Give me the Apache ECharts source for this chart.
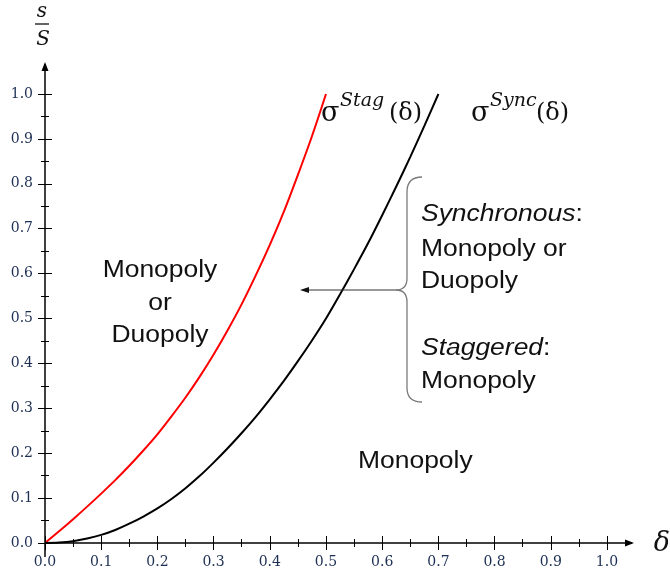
<!DOCTYPE html>
<html><head><meta charset="utf-8">
<script src="https://cdn.jsdelivr.net/npm/echarts@6/dist/echarts.min.js"></script>
<style>html,body{margin:0;padding:0;background:#fff}#c{width:670px;height:576px}</style>
</head><body><div id="c"></div>
<script>
// Data
const deltaStag = [0, 0.025, 0.05, 0.075, 0.1, 0.125, 0.15, 0.175, 0.2, 0.225, 0.25, 0.275, 0.3, 0.325, 0.35, 0.375, 0.4, 0.425, 0.45, 0.475, 0.5];
const sigmaStag = [0, 0.026, 0.053, 0.081, 0.11, 0.14, 0.172, 0.206, 0.242, 0.282, 0.324, 0.37, 0.42, 0.474, 0.532, 0.596, 0.664, 0.738, 0.82, 0.906, 1.0];
const deltaSync = [0, 0.025, 0.05, 0.075, 0.1, 0.125, 0.15, 0.175, 0.2, 0.225, 0.25, 0.275, 0.3, 0.325, 0.35, 0.375, 0.4, 0.425, 0.45, 0.475, 0.5, 0.525, 0.55, 0.575, 0.6, 0.625, 0.65, 0.675, 0.7];
const sigmaSync = [0, 0.001, 0.004, 0.01, 0.018, 0.029, 0.043, 0.059, 0.077, 0.098, 0.122, 0.149, 0.179, 0.211, 0.245, 0.281, 0.32, 0.361, 0.405, 0.451, 0.5, 0.554, 0.61, 0.668, 0.73, 0.794, 0.86, 0.929, 1.0];
const xTickLabels = ['0.0','0.1','0.2','0.3','0.4','0.5','0.6','0.7','0.8','0.9','1.0'];
const yTickLabels = ['0.0','0.1','0.2','0.3','0.4','0.5','0.6','0.7','0.8','0.9','1.0'];

const chart = echarts.init(document.getElementById('c'), null, {renderer: 'canvas'});
const labelColor = '#1c2e52';
const tickFont = 'DejaVu Serif';
function fmtX(v){ const i = Math.round(v*10); return xTickLabels[i] || ''; }
function fmtY(v){ const i = Math.round(v*10); return yTickLabels[i] || ''; }

function axisPair(dim, fmt){
  const base = {type:'value', min:0, max:1, interval:0.1,
    position: dim === 'x' ? 'bottom' : 'left',
    axisLine:{show:false}, splitLine:{show:false}, minorSplitLine:{show:false}};
  return [
    Object.assign({}, base, {
      axisTick:{show:true, inside:false, length:7, lineStyle:{color:'#000', width:1}},
      minorTick:{show:true, splitNumber:2, length:4, lineStyle:{color:'#000', width:1}},
      axisLabel:{show:true, margin:12, fontFamily:tickFont, fontSize:14, color:labelColor, formatter:fmt}
    }),
    Object.assign({}, base, {
      axisTick:{show:true, inside:true, length:7, lineStyle:{color:'#000', width:1}},
      minorTick:{show:true, splitNumber:2, length:4, lineStyle:{color:'#000', width:1}},
      axisLabel:{show:false}
    })
  ];
}

const stagData = deltaStag.map((d,i)=>[d, sigmaStag[i]]);
const syncData = deltaSync.map((d,i)=>[d, sigmaSync[i]]);

chart.setOption({
  animation:false,
  backgroundColor:'#fff',
  grid:{left:45, right:63, top:94, bottom:33, containLabel:false},
  xAxis: axisPair('x', fmtX),
  yAxis: axisPair('y', fmtY),
  series:[
    {type:'line', data:stagData, smooth:0.3, symbol:'none', lineStyle:{color:'#ff0000', width:2}, z:3},
    {type:'line', data:syncData, smooth:0.3, symbol:'none', lineStyle:{color:'#000000', width:2}, z:3}
  ]
});

const p0 = chart.convertToPixel({gridIndex:0}, [0, 0]);
const x0 = p0[0], y0 = p0[1];

function txt(x, y, text, opts){
  opts = opts || {};
  const fs = opts.fontSize || 23;
  const ff = opts.fontFamily || 'Liberation Sans';
  const al = opts.align || 'left';
  const style = {text:text, x:0, y:0, fill:opts.fill||'#111', fontSize:fs, fontFamily:ff,
    fontStyle:opts.fontStyle||'normal', align:al, textAlign:al, verticalAlign:'middle', textVerticalAlign:'middle'};
  if (opts.rich) style.rich = opts.rich;
  return {type:'text', x:x, y:y, scaleX:opts.scaleX||1, z:10, style:style};
}
const sx = 1.15;
const richSans = {
  i:{fontFamily:'Liberation Sans', fontSize:23, fontStyle:'italic', fill:'#111'},
  n:{fontFamily:'Liberation Sans', fontSize:23, fontStyle:'normal', fill:'#111'}
};
const braceStyle = {stroke:'#7a7a7a', lineWidth:1.3, fill:null};
function qc(x1,y1,cx,cy,x2,y2){ return {type:'bezierCurve', z:6, shape:{x1:x1,y1:y1,cpx1:cx,cpy1:cy,x2:x2,y2:y2}, style:braceStyle}; }
function ln(x1,y1,x2,y2,style){ return {type:'line', z:6, shape:{x1:x1,y1:y1,x2:x2,y2:y2}, style:style}; }

const graphics = [
  // axis lines with arrows
  ln(x0, y0, 632, y0, {stroke:'#000', lineWidth:1.5}),
  {type:'polygon', z:5, shape:{points:[[634,y0],[625,y0-3.5],[625,y0+3.5]]}, style:{fill:'#000'}},
  ln(x0, y0+14, x0, 64, {stroke:'#000', lineWidth:1.5}),
  {type:'polygon', z:5, shape:{points:[[x0,62],[x0-3.5,71],[x0+3.5,71]]}, style:{fill:'#000'}},
  // axis titles
  txt(42, 12, 's', {fontFamily:'DejaVu Serif', fontStyle:'italic', fontSize:20, align:'center'}),
  ln(35, 24, 49, 24, {stroke:'#111', lineWidth:1.3}),
  txt(43, 40, 'S', {fontFamily:'DejaVu Serif', fontStyle:'italic', fontSize:20, align:'center'}),
  txt(662, 544, 'δ', {fontFamily:'DejaVu Serif', fontStyle:'italic', fontSize:27, align:'center'}),
  // curve names
  txt(321, 114, 'σ', {fontFamily:'DejaVu Serif', fontSize:27}),
  txt(340, 101, 'Stag', {fontFamily:'DejaVu Serif', fontStyle:'italic', fontSize:19}),
  txt(389, 114, '(δ)', {fontFamily:'DejaVu Serif', fontSize:24}),
  txt(471, 114, 'σ', {fontFamily:'DejaVu Serif', fontSize:27}),
  txt(490, 101, 'Sync', {fontFamily:'DejaVu Serif', fontStyle:'italic', fontSize:19}),
  txt(536, 114, '(δ)', {fontFamily:'DejaVu Serif', fontSize:24}),
  // region labels
  txt(160, 271, 'Monopoly', {align:'center', scaleX:sx}),
  txt(160, 304, 'or', {align:'center', scaleX:sx}),
  txt(160, 336, 'Duopoly', {align:'center', scaleX:sx}),
  txt(358, 462, 'Monopoly', {scaleX:sx}),
  txt(421, 215, '{i|Synchronous}{n|:}', {scaleX:sx, rich:richSans}),
  txt(421, 250, 'Monopoly or', {scaleX:sx}),
  txt(421, 282, 'Duopoly', {scaleX:sx}),
  txt(421, 349, '{i|Staggered}{n|:}', {scaleX:sx, rich:richSans}),
  txt(421, 382, 'Monopoly', {scaleX:sx}),
  // brace
  qc(422, 177, 407, 177, 407, 192),
  ln(407, 192, 407, 278, braceStyle),
  qc(407, 278, 407, 290, 396, 290),
  qc(396, 290, 407, 290, 407, 302),
  ln(407, 302, 407, 388, braceStyle),
  qc(407, 388, 407, 402, 422, 402),
  // arrow
  ln(396, 290, 306, 290, {stroke:'#333', lineWidth:1}),
  {type:'polygon', z:6, shape:{points:[[300,290],[309,287],[309,293]]}, style:{fill:'#111'}}
];
chart.setOption({graphic:{elements:graphics}});
</script></body></html>
